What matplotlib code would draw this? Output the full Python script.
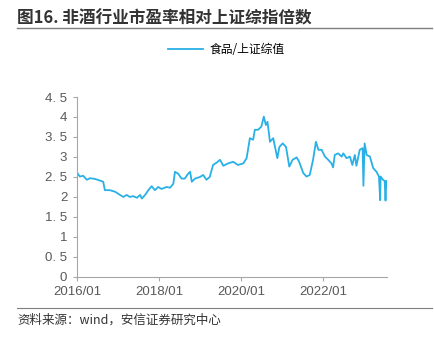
import pandas as pd
import matplotlib.pyplot as plt
import matplotlib.dates as mdates

plt.rcParams['font.family'] = ['Liberation Sans', 'Noto Sans CJK SC', 'DejaVu Sans']

# 食品/上证综值 (读图估计, 年份小数)
anos = [
    2016.00, 2016.07, 2016.15, 2016.24, 2016.32, 2016.44, 2016.56, 2016.64, 2016.68, 2016.80,
    2016.93, 2017.05, 2017.13, 2017.21, 2017.29, 2017.37, 2017.46, 2017.54, 2017.58, 2017.66,
    2017.74, 2017.82, 2017.90, 2017.98, 2018.06, 2018.19, 2018.27, 2018.35, 2018.39, 2018.47,
    2018.55, 2018.63, 2018.71, 2018.76, 2018.80, 2018.88, 2019.00, 2019.08, 2019.16, 2019.24,
    2019.32, 2019.41, 2019.49, 2019.57, 2019.69, 2019.81, 2019.93, 2020.06, 2020.14, 2020.22,
    2020.30, 2020.34, 2020.42, 2020.50, 2020.56, 2020.61, 2020.65, 2020.71, 2020.79, 2020.89,
    2020.94, 2021.02, 2021.10, 2021.18, 2021.26, 2021.36, 2021.42, 2021.52, 2021.60, 2021.68,
    2021.76, 2021.83, 2021.89, 2021.97, 2022.05, 2022.13, 2022.21, 2022.25, 2022.29, 2022.37,
    2022.46, 2022.50, 2022.58, 2022.66, 2022.72, 2022.78, 2022.82, 2022.90, 2022.97, 2022.99,
    2023.02, 2023.07, 2023.15, 2023.23, 2023.31, 2023.37, 2023.40, 2023.41, 2023.47, 2023.51,
    2023.53, 2023.55,
]
valores = [
    2.61, 2.51, 2.53, 2.43, 2.47, 2.45, 2.41, 2.38, 2.17, 2.17,
    2.13, 2.05, 2.00, 2.05, 2.00, 2.02, 1.98, 2.05, 1.96, 2.05,
    2.17, 2.27, 2.17, 2.25, 2.20, 2.25, 2.23, 2.33, 2.63, 2.58,
    2.46, 2.46, 2.58, 2.63, 2.38, 2.46, 2.50, 2.55, 2.43, 2.50,
    2.80, 2.86, 2.93, 2.78, 2.84, 2.88, 2.80, 2.84, 2.97, 3.47,
    3.43, 3.68, 3.68, 3.76, 4.01, 3.80, 3.88, 3.38, 3.47, 2.97,
    3.25, 3.34, 3.25, 2.76, 2.93, 2.99, 2.88, 2.60, 2.51, 2.55,
    2.93, 3.38, 3.18, 3.18, 3.01, 2.93, 2.84, 2.74, 3.05, 3.09,
    3.01, 3.09, 2.97, 3.01, 2.80, 3.05, 2.78, 3.18, 3.22, 2.28,
    3.34, 3.05, 3.01, 2.72, 2.63, 2.51, 1.92, 2.51, 2.43, 2.40,
    1.91, 2.40,
]
yticks = [0, 0.5, 1, 1.5, 2, 2.5, 3, 3.5, 4, 4.5]
ytick_labels = ["0", "0. 5", "1", "1. 5", "2", "2. 5", "3", "3. 5", "4", "4. 5"]


def a_fecha(a):
    y = int(a)
    return pd.Timestamp(year=y, month=1, day=1) + pd.Timedelta(days=(a - y) * 365.25)


fechas = [a_fecha(a) for a in anos]

gris = "#595959"
fig = plt.figure(figsize=(4.35, 3.44), dpi=100)
ax = fig.add_axes([0.177, 0.195, 0.713, 0.523])

linea, = ax.plot(fechas, valores, color="#29B0E6", lw=1.3)

ax.set_ylim(0, 4.5)
ax.set_yticks(yticks)
ax.set_yticklabels(ytick_labels)
ax.set_xlim(pd.Timestamp("2016-01-01"), a_fecha(2023.57))
ax.set_xticks([pd.Timestamp(f"{y}-01-01") for y in (2016, 2018, 2020, 2022)])
ax.xaxis.set_major_formatter(mdates.DateFormatter("%Y/%m"))

for s in ("top", "right"):
    ax.spines[s].set_visible(False)
for s in ("left", "bottom"):
    ax.spines[s].set_color("#A6A6A6")
ax.tick_params(colors="#A6A6A6", labelcolor=gris, labelsize=9.5, length=3)
ax.tick_params(axis="y", pad=4)

fig.legend([linea], ["食品/上证综值"], loc="center", bbox_to_anchor=(0.52, 0.857),
           frameon=False, handlelength=3.0, handletextpad=0.5,
           prop={"family": ["Noto Sans CJK SC"], "size": 8.5})

fig.text(0.04, 0.945, "图16. 非酒行业市盈率相对上证综指倍数", fontsize=12,
         fontweight="semibold", color="#333333", va="center",
         family=["Noto Sans CJK SC", "DejaVu Sans"])
fig.add_artist(plt.Line2D([0.04, 0.993], [0.918, 0.918], color="#7F7F7F", lw=1))
fig.add_artist(plt.Line2D([0.04, 0.993], [0.105, 0.105], color="#7F7F7F", lw=0.8))
fig.text(0.04, 0.068, "资料来源：wind，安信证券研究中心", fontsize=9, color="#333333",
         va="center", style="italic", family=["Noto Sans CJK SC", "DejaVu Sans"])

fig.savefig("out.png", dpi=100)
